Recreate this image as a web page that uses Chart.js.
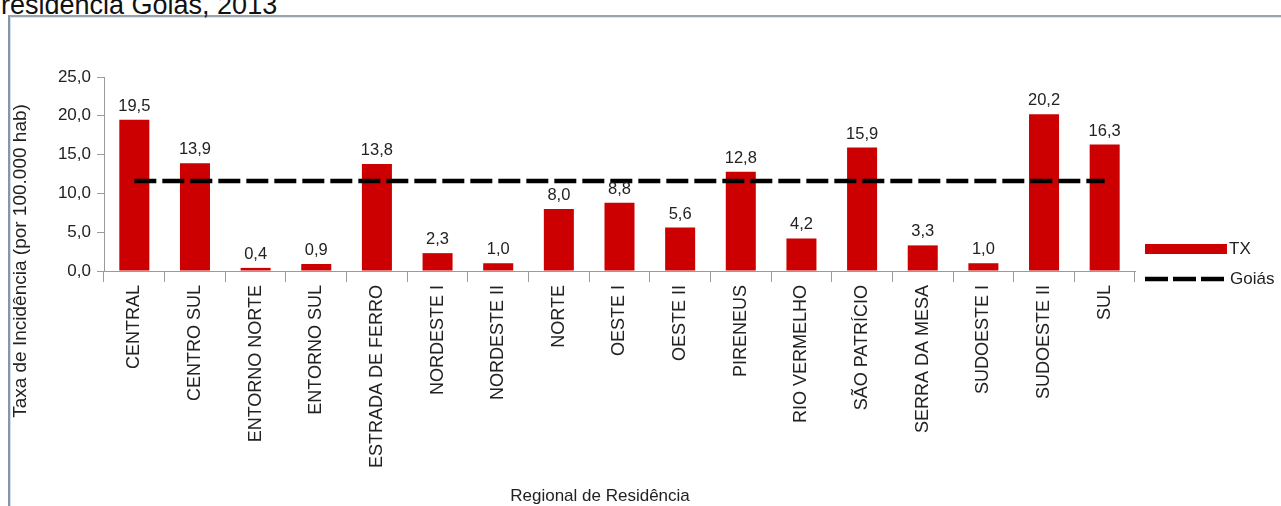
<!DOCTYPE html>
<html>
<head>
<meta charset="utf-8">
<script src="https://cdn.jsdelivr.net/npm/chart.js@4.4.1/dist/chart.umd.min.js"></script>
<style>
  html, body { margin: 0; padding: 0; background: #fff; width: 1281px; height: 506px; overflow: hidden; }
  #frame { position: absolute; left: 8px; top: 15px; width: 1300px; height: 600px;
           border-top: 2px solid #97a3ae; border-left: 2px solid #8796a4; box-sizing: border-box; }
  #frame2 { position: absolute; left: 10px; top: 17px; width: 1300px; height: 600px;
           border-top: 1px solid #dbe6ef; border-left: 1px solid #cfdeea; box-sizing: border-box; }
  #title { position: absolute; left: 1px; top: -10px; font: 27px "Liberation Sans", Arial, sans-serif; color: #111; white-space: nowrap; }
  #wrap { position: absolute; left: 0; top: 0; width: 1281px; height: 506px; }
</style>
</head>
<body>
<div id="frame"></div>
<div id="frame2"></div>
<div id="title">residência Goiás, 2013</div>
<div id="wrap"><canvas id="c" width="1281" height="506"></canvas></div>
<script>
const categories = ["CENTRAL","CENTRO SUL","ENTORNO NORTE","ENTORNO SUL","ESTRADA DE FERRO","NORDESTE I","NORDESTE II","NORTE","OESTE I","OESTE II","PIRENEUS","RIO VERMELHO","SÃO PATRÍCIO","SERRA DA MESA","SUDOESTE I","SUDOESTE II","SUL"];
const txValues = [19.5,13.9,0.4,0.9,13.8,2.3,1.0,8.0,8.8,5.6,12.8,4.2,15.9,3.3,1.0,20.2,16.3];
const goiasValue = 11.6;
const goiasValues = categories.map(() => goiasValue);
const yTicks = [0,5,10,15,20,25];
const seriesNames = ["TX","Goiás"];
const yTitle = "Taxa de Incidência (por 100.000 hab)";
const xTitle = "Regional de Residência";

const RED = "#cc0000";
const FONT = '"Liberation Sans", Arial, sans-serif';
const fmt = v => v.toFixed(1).replace('.', ',');

const extras = {
  id: 'extras',
  afterDatasetsDraw(chart) {
    const ctx = chart.ctx;
    const meta = chart.getDatasetMeta(1);
    ctx.save();
    ctx.fillStyle = '#222';
    ctx.font = '16.5px ' + FONT;
    ctx.textAlign = 'center';
    ctx.textBaseline = 'alphabetic';
    meta.data.forEach((bar, i) => {
      ctx.fillText(fmt(txValues[i]), bar.x, bar.y - 9);
    });
    ctx.restore();
  },
  afterDraw(chart) {
    const ctx = chart.ctx;
    ctx.save();
    ctx.fillStyle = '#222';
    ctx.font = '19px ' + FONT;
    ctx.textAlign = 'center';
    ctx.textBaseline = 'middle';
    ctx.translate(21, 261);
    ctx.rotate(-Math.PI / 2);
    ctx.fillText(yTitle, 0, 0);
    ctx.restore();
    ctx.save();
    ctx.fillStyle = '#222';
    ctx.font = '17px ' + FONT;
    ctx.textAlign = 'center';
    ctx.textBaseline = 'middle';
    ctx.fillText(xTitle, 600, 496);
    // legend
    const lx = 1145, lw = 82;
    ctx.fillStyle = RED;
    ctx.fillRect(lx, 244, lw, 10);
    ctx.strokeStyle = '#000';
    ctx.lineWidth = 4.5;
    ctx.setLineDash([23, 5]);
    ctx.beginPath();
    ctx.moveTo(lx, 279);
    ctx.lineTo(lx + lw - 3, 279);
    ctx.stroke();
    ctx.setLineDash([]);
    ctx.fillStyle = '#222';
    ctx.textAlign = 'left';
    ctx.font = '17px ' + FONT;
    ctx.fillText(seriesNames[0], 1229, 249);
    ctx.fillText(seriesNames[1], 1230, 279);
    ctx.restore();
  }
};

new Chart(document.getElementById('c'), {
  data: {
    labels: categories,
    datasets: [
      { type: 'line', label: seriesNames[1], data: goiasValues, borderColor: '#000', borderWidth: 4.5,
        borderDash: [22, 6], pointRadius: 0, fill: false, order: 0 },
      { type: 'bar', label: seriesNames[0], data: txValues, backgroundColor: RED,
        barPercentage: 0.495, categoryPercentage: 1.0, order: 1 }
    ]
  },
  options: {
    responsive: false,
    animation: false,
    layout: { padding: { left: 0, top: 77, right: 146, bottom: 0 } },
    plugins: { legend: { display: false }, tooltip: { enabled: false } },
    scales: {
      x: {
        type: 'category',
        offset: true,
        grid: { display: true, drawOnChartArea: false, drawTicks: true, tickLength: 11, color: '#9a9a9a', offset: true },
        border: { display: true, color: '#9a9a9a', width: 1 },
        ticks: { autoSkip: false, maxRotation: 90, minRotation: 90, padding: 3, color: '#222',
                 font: { family: FONT, size: 18 } },
        afterFit(s) { s.height = 506 - 271; }
      },
      y: {
        min: 0, max: 25,
        afterBuildTicks(s) { s.ticks = yTicks.map(v => ({ value: v })); },
        grid: { display: true, drawOnChartArea: false, drawTicks: true, tickLength: 7, color: '#9a9a9a' },
        border: { display: true, color: '#9a9a9a', width: 1 },
        ticks: { padding: 6, color: '#222', font: { family: FONT, size: 17 }, callback: v => fmt(v) },
        afterFit(s) { s.width = 104; }
      }
    }
  },
  plugins: [extras]
});
</script>
</body>
</html>
